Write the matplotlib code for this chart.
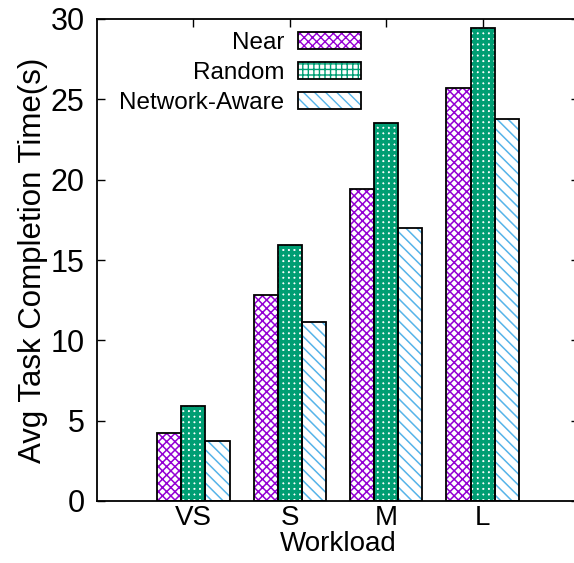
import numpy as np
import matplotlib
matplotlib.use('Agg')
import matplotlib.pyplot as plt
from matplotlib.patches import Patch

# dados
workloads = ['VS', 'S', 'M', 'L']
series = ['Near', 'Random', 'Network-Aware']
near = [4.21, 12.82, 19.4, 25.68]
random_sel = [5.91, 15.93, 23.54, 29.41]
net_aware = [3.73, 11.12, 17.0, 23.77]
yticks = [0, 5, 10, 15, 20, 25, 30]

colors = ['#9400D3', '#009E73', '#56B4E9']
hatches = ['xxxx', '+++', '\\\\\\']
hatch_lw = [1.1, 2.6, 1.1]

plt.rcParams['font.family'] = ['Liberation Sans', 'DejaVu Sans']

fig = plt.figure(figsize=(5.74, 5.63), dpi=100)
ax = fig.add_axes([97 / 574, 1 - 501 / 563, 482 / 574, 482 / 563])

x = np.arange(len(workloads))
width = 0.25
values = [near, random_sel, net_aware]


def hatched_bar(xs, hs, color, hatch, lw):
    with plt.rc_context({'hatch.linewidth': lw}):
        bars = ax.bar(xs, hs, width, facecolor='white', edgecolor=color,
                      hatch=hatch, linewidth=0, zorder=2)
    for b in bars:
        if hasattr(b, 'set_hatch_linewidth'):
            b.set_hatch_linewidth(lw)
    ax.bar(xs, hs, width, fill=False, edgecolor='black', linewidth=1.3, zorder=3)


handles = []
for i, vals in enumerate(values):
    hatched_bar(x + (i - 1) * width, vals, colors[i], hatches[i], hatch_lw[i])
    with plt.rc_context({'hatch.linewidth': hatch_lw[i]}):
        p1 = Patch(facecolor='white', edgecolor=colors[i], hatch=hatches[i], linewidth=0)
    if hasattr(p1, 'set_hatch_linewidth'):
        p1.set_hatch_linewidth(hatch_lw[i])
    p2 = Patch(fill=False, edgecolor='black', linewidth=1.3)
    handles.append((p1, p2))

ax.set_xlim(-1, 4)
ax.set_ylim(0, 30)
ax.set_yticks(yticks)
ax.set_xticks(x)
ax.set_xticklabels(workloads)

ax.tick_params(axis='both', direction='in', length=6, width=1.0,
               top=True, right=True)
ax.tick_params(axis='y', pad=9, labelsize=22)
ax.tick_params(axis='x', pad=3, labelsize=20)
for s in ax.spines.values():
    s.set_linewidth(1.3)

ax.set_xlabel('Workload', fontsize=20, labelpad=0)
ax.set_ylabel('Avg Task Completion Time(s)', fontsize=22.5, labelpad=2)

ax.legend(handles, series, loc='upper right', bbox_to_anchor=(361 / 574, 1 - 32 / 563),
          bbox_transform=fig.transFigure, frameon=False, markerfirst=False,
          fontsize=17.5, handlelength=2.6, handleheight=0.65, handletextpad=0.55,
          labelspacing=0.33, borderpad=0, borderaxespad=0)

fig.savefig('out.png', dpi=100)
